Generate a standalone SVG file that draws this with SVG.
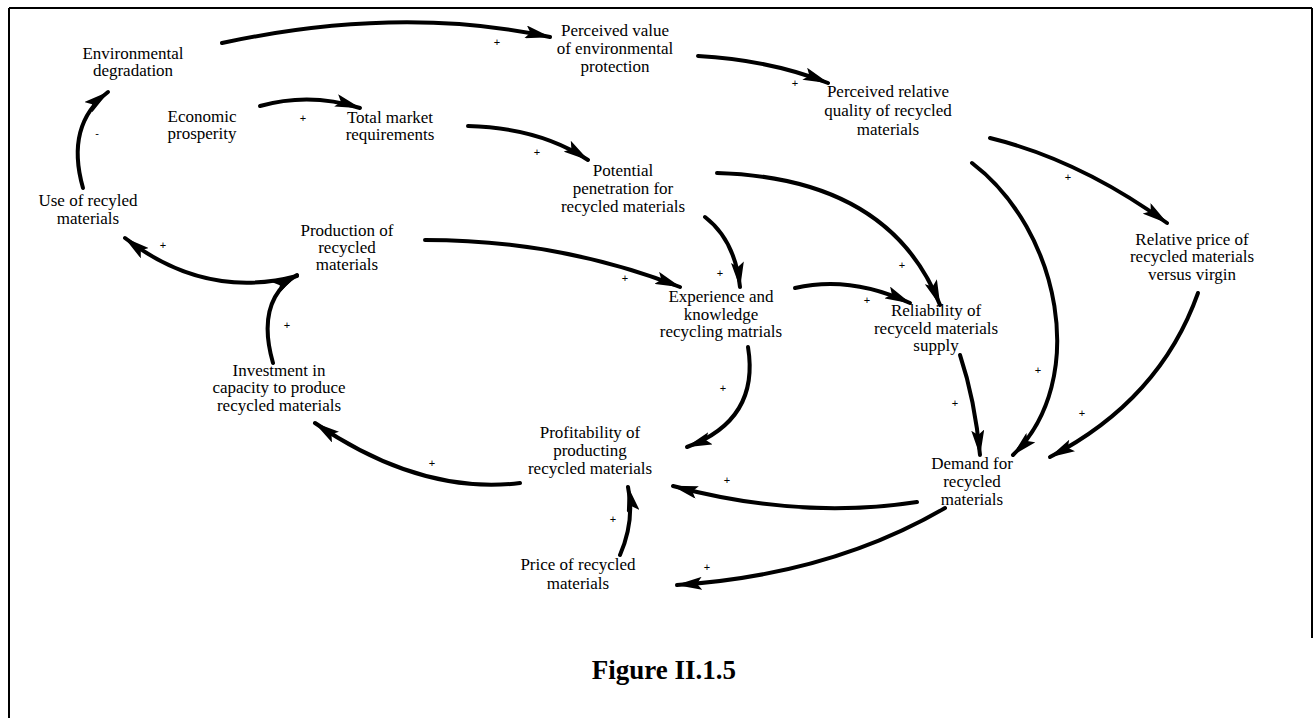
<svg xmlns="http://www.w3.org/2000/svg" width="1315" height="718" viewBox="0 0 1315 718">
<style>
.n text{font-family:"Liberation Serif","Times New Roman",serif;font-size:17px;fill:#000;text-anchor:middle}
.c path{fill:none;stroke:#000;stroke-width:4;stroke-linecap:round;marker-end:url(#ah)}
.s{font-family:"Liberation Sans",Arial,sans-serif;font-size:11px;fill:#000;text-anchor:middle}
.fig{font-family:"Liberation Serif","Times New Roman",serif;font-size:27px;font-weight:bold;fill:#000;text-anchor:middle}
.b{stroke:#000;stroke-width:2;fill:none}
</style>
<defs>
<marker id="ah" viewBox="0 0 26 13" refX="25" refY="6.5" markerWidth="26" markerHeight="13" markerUnits="userSpaceOnUse" orient="auto">
<path d="M0,0 L26,6.5 L0,13 L5,6.5 z" fill="#000"/>
</marker>
</defs>
<rect width="1315" height="718" fill="#fff"/>
<g id="border">
<line class="b" x1="9" y1="8" x2="1312" y2="8"/>
<line class="b" x1="9" y1="8" x2="9" y2="718"/>
<line class="b" x1="1312" y1="8" x2="1312" y2="638"/>
</g>
<g id="env" class="n"><text x="133" y="59">Environmental</text><text x="133" y="76">degradation</text></g>
<g id="econ" class="n"><text x="202" y="122">Economic</text><text x="202" y="139">prosperity</text></g>
<g id="total" class="n"><text x="390" y="123">Total market</text><text x="390" y="140">requirements</text></g>
<g id="pv" class="n"><text x="615" y="36">Perceived value</text><text x="615" y="54">of environmental</text><text x="615" y="72">protection</text></g>
<g id="pr" class="n"><text x="888" y="97">Perceived relative</text><text x="888" y="116">quality of recycled</text><text x="888" y="135">materials</text></g>
<g id="use" class="n"><text x="88" y="206">Use of recyled</text><text x="88" y="224">materials</text></g>
<g id="pot" class="n"><text x="623" y="176">Potential</text><text x="623" y="194">penetration for</text><text x="623" y="212">recycled materials</text></g>
<g id="prod" class="n"><text x="347" y="236">Production of</text><text x="347" y="253">recycled</text><text x="347" y="270">materials</text></g>
<g id="exp" class="n"><text x="721" y="302">Experience and</text><text x="721" y="320">knowledge</text><text x="721" y="337">recycling matrials</text></g>
<g id="rel" class="n"><text x="936" y="316">Reliability of</text><text x="936" y="334">recyceld materials</text><text x="936" y="351">supply</text></g>
<g id="relp" class="n"><text x="1192" y="245">Relative price of</text><text x="1192" y="262">recycled materials</text><text x="1192" y="280">versus virgin</text></g>
<g id="inv" class="n"><text x="279" y="376">Investment in</text><text x="279" y="393">capacity to produce</text><text x="279" y="411">recycled materials</text></g>
<g id="prof" class="n"><text x="590" y="438">Profitability of</text><text x="590" y="456">producting</text><text x="590" y="474">recycled materials</text></g>
<g id="dem" class="n"><text x="972" y="469">Demand for</text><text x="972" y="487">recycled</text><text x="972" y="505">materials</text></g>
<g id="price" class="n"><text x="578" y="570">Price of recycled</text><text x="578" y="589">materials</text></g>
<g id="connectors" class="c">
<path d="M222,43 Q400,5 550,37"/>
<path d="M260,106 Q310,92 360,108"/>
<path d="M83,188 Q65,125 108,92"/>
<path d="M698,56 Q770,60 828,83"/>
<path d="M468,126 Q540,128 588,160"/>
<path d="M990,138 Q1080,160 1167,223"/>
<path d="M972,163 C1060,230 1090,380 1013,455"/>
<path d="M717,173 Q890,178 940,305"/>
<path d="M705,217 Q735,240 740,287"/>
<path d="M425,240 Q560,240 680,287"/>
<path d="M297,276 Q205,300 125,238"/>
<path d="M273,363 Q255,300 297,275"/>
<path d="M795,288 Q850,275 910,303"/>
<path d="M748,347 Q760,420 687,447"/>
<path d="M960,355 Q975,400 980,455"/>
<path d="M1198,293 Q1160,400 1050,457"/>
<path d="M520,483 Q420,495 315,423"/>
<path d="M917,502 Q800,520 673,486"/>
<path d="M945,508 Q830,575 677,585"/>
<path d="M620,555 Q635,520 628,487"/>
</g>
<g id="signs">
<text class="s" x="497" y="46">+</text>
<text class="s" x="303" y="122">+</text>
<text class="s" x="97" y="137">-</text>
<text class="s" x="795" y="87">+</text>
<text class="s" x="537" y="156">+</text>
<text class="s" x="1068" y="181">+</text>
<text class="s" x="1038" y="374">+</text>
<text class="s" x="902" y="269">+</text>
<text class="s" x="720" y="277">+</text>
<text class="s" x="625" y="282">+</text>
<text class="s" x="163" y="249">+</text>
<text class="s" x="287" y="329">+</text>
<text class="s" x="867" y="304">+</text>
<text class="s" x="723" y="392">+</text>
<text class="s" x="955" y="407">+</text>
<text class="s" x="1082" y="417">+</text>
<text class="s" x="432" y="467">+</text>
<text class="s" x="727" y="484">+</text>
<text class="s" x="707" y="571">+</text>
<text class="s" x="613" y="523">+</text>
</g>
<text class="fig" x="664" y="679">Figure II.1.5</text>
</svg>
